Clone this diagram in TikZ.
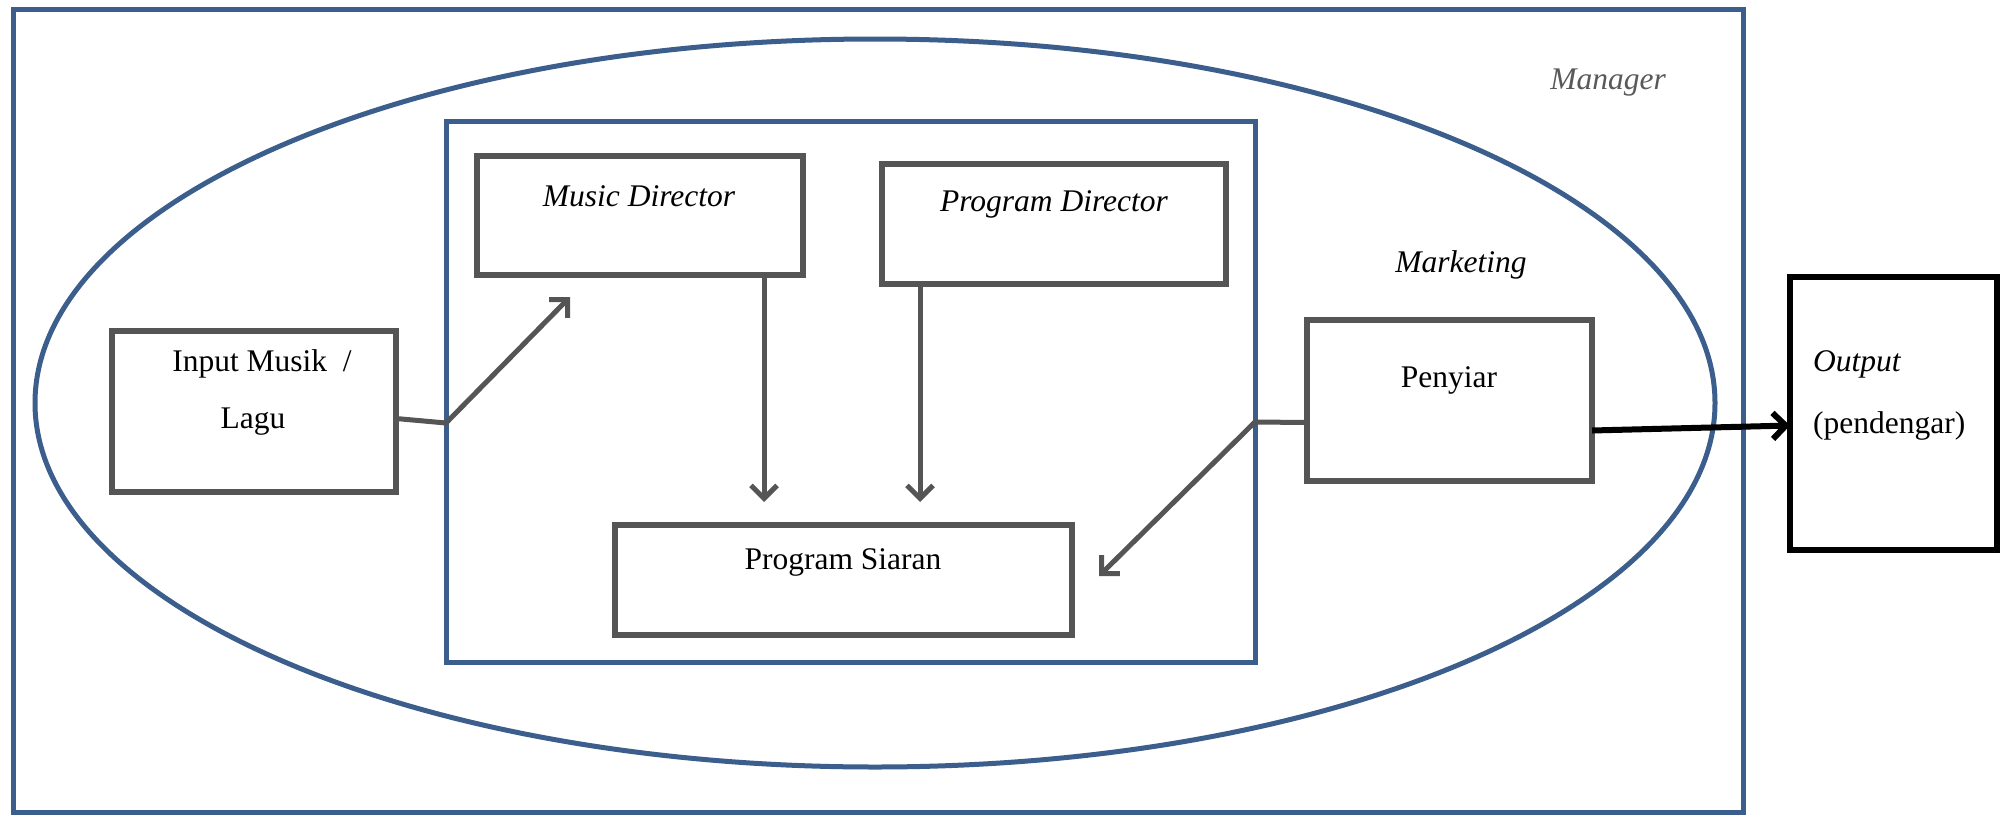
\documentclass[tikz,border=0pt]{standalone}
\usepackage{fontspec}
\setmainfont{Liberation Serif}
\usetikzlibrary{arrows.meta}
\definecolor{frameblue}{RGB}{59,94,140}
\definecolor{boxgray}{RGB}{85,85,85}
\definecolor{labelgray}{RGB}{89,89,89}

\begin{document}
\begin{tikzpicture}[x=1pt, y=-1pt,
    frame/.style={draw=frameblue, line width=5pt},
    unit/.style={draw=boxgray, line width=6pt, inner sep=0pt, outer sep=0pt},
    caption/.style={inner sep=0pt, font=\fontsize{31.5}{37}\selectfont},
    conn/.style={draw=boxgray, line width=5pt, -{Straight Barb[length=13pt, width=26pt]}}]
    \useasboundingbox (0, 0) rectangle (2004, 814);
    \draw[frame] (13, 9) rectangle (1743, 812);
    \draw[frame] (875, 403) ellipse [x radius=840, y radius=364];
    \draw[frame] (446, 121) rectangle (1255, 662);

    \node[unit, minimum width=284pt, minimum height=161pt] (inbox) at (254, 411.5) {};
    \node[unit, minimum width=326pt, minimum height=119pt] (mdbox) at (640, 215.5) {};
    \node[unit, minimum width=344pt, minimum height=120pt] (pdbox) at (1054, 224) {};
    \node[unit, minimum width=457pt, minimum height=110pt] (psbox) at (843.5, 580) {};
    \node[unit, minimum width=285pt, minimum height=161pt] (pybox) at (1449.5, 400.5) {};
    \node[unit, draw=black, minimum width=207pt, minimum height=273pt] (outbox) at (1893.5, 413.5) {};

    \node[caption, text=labelgray, font=\fontsize{31.5}{37}\selectfont\itshape] (manager) at (1608, 83) {Manager};
    \node[caption, font=\fontsize{31.5}{37}\selectfont\itshape] (marketing) at (1461, 265) {Marketing};
    \node[caption, font=\fontsize{31.5}{37}\selectfont\itshape] (mdtext) at (639, 196) {Music Director};
    \node[caption, font=\fontsize{31.5}{37}\selectfont\itshape] (pdtext) at (1054, 204) {Program Director};
    \node[caption] (intext) at (262, 364) {Input Musik\ \ /};
    \node[caption] (lagutext) at (253, 422) {Lagu};
    \node[caption] (pytext) at (1449, 380) {Penyiar};
    \node[caption] (pstext) at (843, 562) {Program Siaran};
    \node[caption, anchor=west, font=\fontsize{31.5}{37}\selectfont\itshape] (outtext) at (1813, 364) {Output};
    \node[caption, anchor=west] (pendtext) at (1813, 426) {(pendengar)};

    \coordinate (inbend) at (446, 423);
    \coordinate (mdtip) at (570, 297);
    \coordinate (mdarr) at (764, 502);
    \coordinate (pdarr) at (920, 502);
    \coordinate (pybend) at (1255, 422);
    \coordinate (pytip) at (1099, 576);

    \draw[conn] ([yshift=-7pt]inbox.east) -- (inbend) -- (mdtip);
    \draw[conn] (mdbox.south -| mdarr) -- (mdarr);
    \draw[conn] (pdbox.south -| pdarr) -- (pdarr);
    \draw[conn] ([yshift=-22pt]pybox.west) -- (pybend) -- (pytip);
    \draw[conn, draw=black, line width=6pt] ([yshift=-30pt]pybox.east) -- ([yshift=-12pt]outbox.west);
\end{tikzpicture}
\end{document}
